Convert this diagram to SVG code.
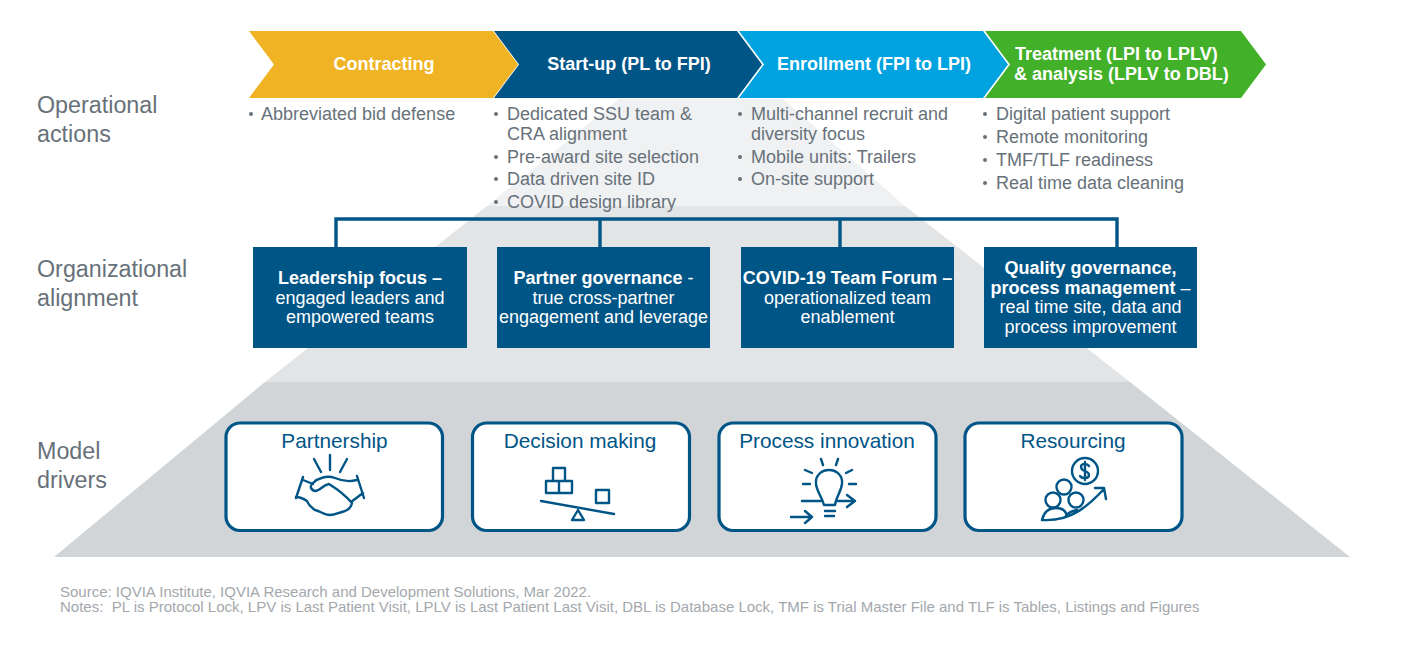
<svg xmlns="http://www.w3.org/2000/svg" width="1422" height="656" viewBox="0 0 1422 656">
<style>
text{font-family:"Liberation Sans",Arial,sans-serif}
.side{font-size:23.3px;fill:#67717a}
.b{font-size:18px;fill:#67717a}
.dot{fill:#67717a}
.hd{font-size:18px;font-weight:700;fill:#fff;text-anchor:middle}
.hl{font-size:18px;font-weight:700;fill:#fff}
.box{fill:#005587}
.t{font-size:18px;fill:#fff;text-anchor:middle}
.t .s{font-weight:700}
.drv{fill:#fff;stroke:#005587;stroke-width:3.2}
.dl{font-size:20.8px;fill:#005587;text-anchor:middle}
.ic{fill:none;stroke:#005587;stroke-width:2.4;stroke-linecap:round;stroke-linejoin:round}
.conn{fill:none;stroke:#005587;stroke-width:3.4}
.fn{font-size:15px;fill:#a3a8ad;white-space:pre}
</style>
<rect width="1422" height="656" fill="#fff"/>
<g id="pyramid">
<polygon points="619,99 783,99 905,206 487,206" fill="#f0f1f3"/>
<polygon points="487,206 905,206 1130,382 265,382" fill="#e2e4e6"/>
<polygon points="265,382 1130,382 1350,557 54,557" fill="#d1d5d8"/>
</g>
<g id="connectors">
<path class="conn" d="M336 247V219H1117V247M600 219V247M840 219V247"/>
</g>
<g id="phase-contracting">
<polygon points="249,31 493,31 518,64.500 493,98 249,98 274,64.500" fill="#f0b323"/>
<text class="hd" x="384" y="70">Contracting</text>
</g>
<g id="phase-startup">
<polygon points="494,31 737,31 762,64.500 737,98 494,98 519,64.500" fill="#005587"/>
<text class="hd" x="629" y="70">Start-up (PL to FPI)</text>
</g>
<g id="phase-enrollment">
<polygon points="739,31 983,31 1008,64.500 983,98 739,98 764,64.500" fill="#00a3e0"/>
<text class="hd" x="874" y="70">Enrollment (FPI to LPI)</text>
</g>
<g id="phase-treatment">
<polygon points="985,31 1241,31 1266,64.500 1241,98 985,98 1010,64.500" fill="#43b02a"/>
<text class="hl" x="1015" y="60">Treatment (LPI to LPLV)</text>
<text class="hl" x="1014" y="80">&amp; analysis (LPLV to DBL)</text>
</g>
<g id="label-operational"><text class="side" x="37" y="113">Operational</text><text class="side" x="37" y="142">actions</text></g>
<g id="label-organizational"><text class="side" x="37" y="277">Organizational</text><text class="side" x="37" y="306">alignment</text></g>
<g id="label-model"><text class="side" x="37" y="459">Model</text><text class="side" x="37" y="488">drivers</text></g>
<g id="actions-contracting">
<circle class="dot" cx="251" cy="114" r="2"/><text class="b" x="261" y="120">Abbreviated bid defense</text>
</g>
<g id="actions-startup">
<circle class="dot" cx="496" cy="114" r="2"/><text class="b" x="507" y="120">Dedicated SSU team &amp;</text>
<text class="b" x="507" y="139.500">CRA alignment</text>
<circle class="dot" cx="496" cy="157" r="2"/><text class="b" x="507" y="162.500">Pre-award site selection</text>
<circle class="dot" cx="496" cy="179" r="2"/><text class="b" x="507" y="185">Data driven site ID</text>
<circle class="dot" cx="496" cy="202" r="2"/><text class="b" x="507" y="208">COVID design library</text>
</g>
<g id="actions-enrollment">
<circle class="dot" cx="740" cy="114" r="2"/><text class="b" x="751" y="120">Multi-channel recruit and</text>
<text class="b" x="751" y="139.500">diversity focus</text>
<circle class="dot" cx="740" cy="157" r="2"/><text class="b" x="751" y="162.500">Mobile units: Trailers</text>
<circle class="dot" cx="740" cy="179" r="2"/><text class="b" x="751" y="185">On-site support</text>
</g>
<g id="actions-treatment">
<circle class="dot" cx="985" cy="114" r="2"/><text class="b" x="996" y="120">Digital patient support</text>
<circle class="dot" cx="985" cy="137" r="2"/><text class="b" x="996" y="143">Remote monitoring</text>
<circle class="dot" cx="985" cy="160" r="2"/><text class="b" x="996" y="165.500">TMF/TLF readiness</text>
<circle class="dot" cx="985" cy="183" r="2"/><text class="b" x="996" y="188.500">Real time data cleaning</text>
</g>
<g id="org-leadership">
<rect class="box" x="253" y="247" width="214" height="101"/>
<text class="t" x="360"><tspan class="s" x="360" y="284">Leadership focus –</tspan><tspan x="360" y="303.500">engaged leaders and</tspan><tspan x="360" y="323">empowered teams</tspan></text>
</g>
<g id="org-partner">
<rect class="box" x="497" y="247" width="213" height="101"/>
<text class="t" x="603.500"><tspan x="603.500" y="284"><tspan class="s">Partner governance</tspan> -</tspan><tspan x="603.500" y="303.500">true cross-partner</tspan><tspan x="603.500" y="323">engagement and leverage</tspan></text>
</g>
<g id="org-covid">
<rect class="box" x="741" y="247" width="213" height="101"/>
<text class="t" x="847.500"><tspan class="s" x="847.500" y="284">COVID-19 Team Forum –</tspan><tspan x="847.500" y="303.500">operationalized team</tspan><tspan x="847.500" y="323">enablement</tspan></text>
</g>
<g id="org-quality">
<rect class="box" x="984" y="247" width="213" height="101"/>
<text class="t" x="1090.500"><tspan class="s" x="1090.500" y="274">Quality governance,</tspan><tspan x="1090.500" y="293.500"><tspan class="s">process management</tspan> –</tspan><tspan x="1090.500" y="313">real time site, data and</tspan><tspan x="1090.500" y="332.500">process improvement</tspan></text>
</g>
<g id="driver-partnership">
<rect class="drv" x="226" y="423" width="216.500" height="107.500" rx="14"/>
<text class="dl" x="334.500" y="448">Partnership</text>
<path class="ic" d="M321 472L314 459M330 470V455M340 472L347 459"/>
<path class="ic" d="M303 477L296 498M357 476L364 498M303 480L313 484M357 480C350 482 342 481 335 478C327 475 318 478 313 483C309 486 311 490 315 491C320 491 323 485 329 484C337 489 346 496 352 503M351 502L363 493M296 497C300 497 304 499 307 501C309 506 312 508 315 510C320 511 324 515 330 515C335 515 338 513 342 512C346 511 351 509 352 503"/>
</g>
<g id="driver-decision">
<rect class="drv" x="472.500" y="423" width="217" height="107.500" rx="14"/>
<text class="dl" x="580" y="448">Decision making</text>
<path class="ic" d="M541 501L614 514"/>
<path class="ic" d="M572 520L578 510L584 520Z"/>
<path class="ic" d="M546 481H559V493H546ZM559 481H572V493H559ZM553 468H565V481H553ZM596 490H609V503H596Z"/>
</g>
<g id="driver-process">
<rect class="drv" x="719" y="423" width="217" height="107.500" rx="14"/>
<text class="dl" x="827" y="448">Process innovation</text>
<path class="ic" d="M824 505C822 497 817 492 816 484C815 476 821 470 829 470C837 470 843 476 842 484C841 492 836 497 835 505Z"/>
<path class="ic" d="M802 501H821M838 501H855M847 495L855 501L847 507M791 517H812M805 511L812 517L805 523M825 511H835M825 516H834M803 484H810M849 484H856M805 470L812 473M852 470L846 473M821 459L823 465M838 459L836 465"/>
</g>
<g id="driver-resourcing">
<rect class="drv" x="965" y="423" width="217" height="107.500" rx="14"/>
<text class="dl" x="1073" y="448">Resourcing</text>
<circle class="ic" cx="1085" cy="471" r="13"/>
<path class="ic" d="M1089 466C1087 463 1081 463 1081 467C1081 472 1089 470 1089 475C1089 479 1082 479 1080 476M1085 462V480"/>
<circle class="ic" cx="1064" cy="487" r="7.500"/>
<circle class="ic" cx="1053" cy="500" r="7.500"/>
<circle class="ic" cx="1076" cy="500" r="7.500"/>
<path class="ic" d="M1042 520C1044 511 1050 508 1056 508C1062 508 1066 511 1067 516M1077 510C1071 511 1068 513 1066 516M1042 520C1072 522 1090 504 1104 489M1095 488L1104 488L1106 499"/>
</g>
<g id="footnotes">
<text class="fn" x="60" y="597">Source: IQVIA Institute, IQVIA Research and Development Solutions, Mar 2022.</text>
<text class="fn" x="60" y="612">Notes:  PL is Protocol Lock, LPV is Last Patient Visit, LPLV is Last Patient Last Visit, DBL is Database Lock, TMF is Trial Master File and TLF is Tables, Listings and Figures</text>
</g>
</svg>
